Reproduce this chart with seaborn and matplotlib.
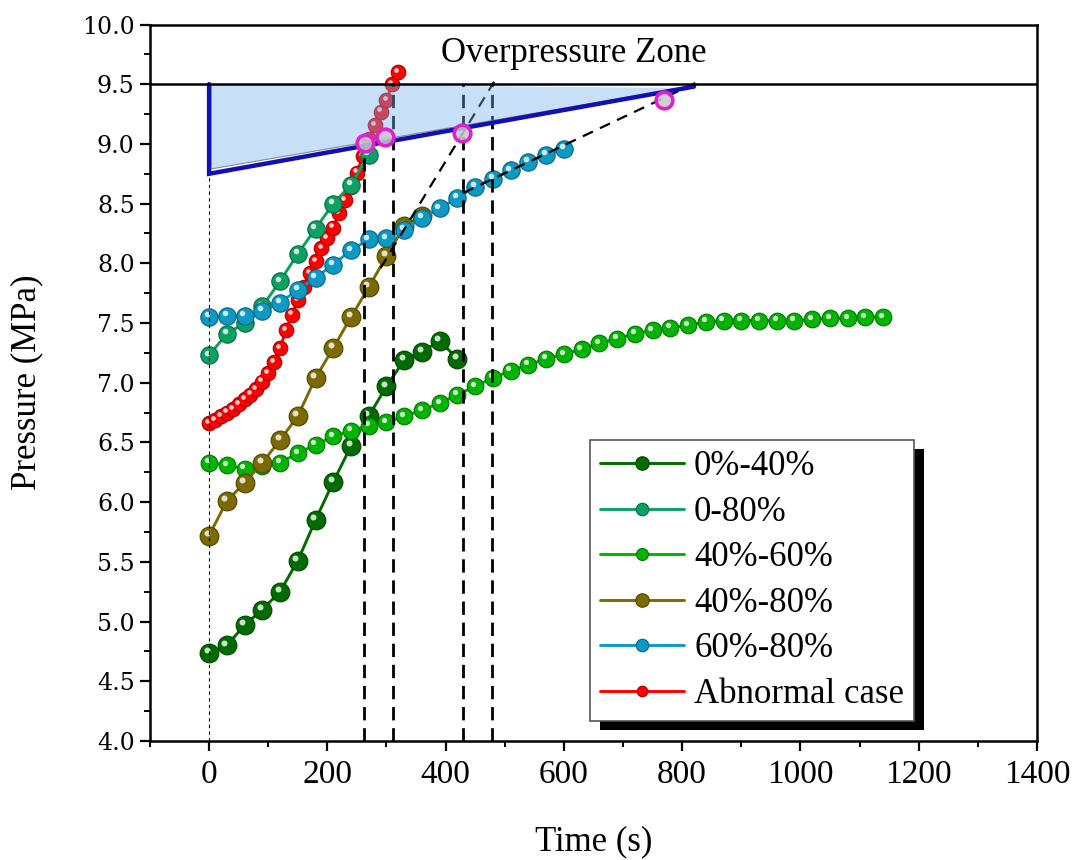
import matplotlib
matplotlib.use("Agg")
import matplotlib.pyplot as plt
import seaborn as sns
from matplotlib.patches import Polygon, Rectangle
from matplotlib.ticker import MultipleLocator, FormatStrFormatter
from matplotlib.transforms import ScaledTranslation
from matplotlib.colors import to_rgb

# ---- pressure histories: time (s) and pressure (MPa) ----
t_0_40 = [0, 30, 60, 90, 120, 150, 180, 210, 240, 270, 300, 330, 360, 390, 420]
p_0_40 = [4.74, 4.80, 4.97, 5.10, 5.25, 5.51, 5.85, 6.17, 6.47, 6.72, 6.97, 7.19, 7.26, 7.35, 7.20]

t_0_80 = [0, 30, 60, 90, 120, 150, 180, 210, 240, 270]
p_0_80 = [7.23, 7.41, 7.50, 7.64, 7.85, 8.08, 8.29, 8.50, 8.66, 8.91]

t_40_60 = [0, 30, 60, 90, 120, 150, 180, 210, 240, 270, 300, 330, 360, 390, 420,
           450, 480, 510, 540, 570, 600, 630, 660, 690, 720, 750, 780, 810, 840,
           870, 900, 930, 960, 990, 1020, 1050, 1080, 1110, 1140]
p_40_60 = [6.33, 6.31, 6.28, 6.30, 6.33, 6.41, 6.48, 6.55, 6.60, 6.64, 6.67, 6.72,
           6.77, 6.83, 6.90, 6.97, 7.04, 7.10, 7.15, 7.20, 7.24, 7.28, 7.33, 7.37,
           7.41, 7.44, 7.46, 7.48, 7.51, 7.52, 7.52, 7.52, 7.52, 7.52, 7.53, 7.54,
           7.54, 7.55, 7.55]

t_40_80 = [0, 30, 60, 90, 120, 150, 180, 210, 240, 270, 300, 330, 360]
p_40_80 = [5.72, 6.01, 6.16, 6.33, 6.52, 6.72, 7.04, 7.29, 7.55, 7.80, 8.06, 8.31, 8.40]

t_60_80 = [0, 30, 60, 90, 120, 150, 180, 210, 240, 270, 300, 330, 360, 390, 420,
           450, 480, 510, 540, 570, 600]
p_60_80 = [7.55, 7.56, 7.56, 7.60, 7.67, 7.78, 7.88, 7.99, 8.11, 8.20, 8.21, 8.28,
           8.38, 8.46, 8.55, 8.64, 8.71, 8.78, 8.85, 8.91, 8.96]

t_abn = [0, 10, 20, 30, 40, 50, 60, 70, 80, 90, 100, 110, 120, 130, 140, 150, 160,
         170, 180, 190, 200, 210, 220, 230, 240, 250, 260, 270, 280, 290, 300, 310, 320]
p_abn = [6.66, 6.69, 6.72, 6.75, 6.78, 6.82, 6.86, 6.90, 6.95, 7.01, 7.08, 7.17,
         7.29, 7.44, 7.57, 7.69, 7.80, 7.92, 8.02, 8.13, 8.21, 8.30, 8.42, 8.53,
         8.64, 8.76, 8.90, 9.04, 9.16, 9.27, 9.37, 9.50, 9.60]

legend_order = ["0%-40%", "0-80%", "40%-60%", "40%-80%", "60%-80%", "Abnormal case"]

# overpressure limit and the warning envelope below it
p_limit = 9.5
zone_t = [0, 0, 820]
zone_p = [9.5, 8.75, 9.48]

# critical instants and extrapolated trends
crit_t = [262, 311, 430, 479]
crit_top = [9.0, 9.5, 9.5, 9.5]
trend_olive_t = [290, 482]
trend_olive_p = [7.96, 9.52]
trend_blue_t = [430, 831]
trend_blue_p = [8.59, 9.53]
hit_t = [264, 298, 428, 769]
hit_p = [9.01, 9.06, 9.09, 9.37]

# ---- style ----
sns.set_style("white")
plt.rcParams["font.family"] = ["Liberation Serif", "DejaVu Serif"]
plt.rcParams["axes.edgecolor"] = "black"
plt.rcParams["text.color"] = "black"
plt.rcParams["axes.labelcolor"] = "black"
plt.rcParams["xtick.color"] = "black"
plt.rcParams["ytick.color"] = "black"

fig = plt.figure(figsize=(10.78, 8.60), dpi=100)
ax = fig.add_axes([0.1391, 0.1384, 0.8228, 0.8331])
ax.set_facecolor("white")


def darker(c, f=0.65):
    r, g, b = to_rgb(c)
    return (r * f, g * f, b * f)


series = [
    ("Abnormal case", t_abn, p_abn, "#FF0000", 10.5, 2.10),
    ("0%-40%", t_0_40, p_0_40, "#006B00", 13.5, 2.20),
    ("0-80%", t_0_80, p_0_80, "#0BA064", 12.5, 2.30),
    ("40%-60%", t_40_60, p_40_60, "#00B400", 12, 2.40),
    ("40%-80%", t_40_80, p_40_80, "#7A6A00", 13.5, 2.50),
    ("60%-80%", t_60_80, p_60_80, "#0C9AC4", 12.5, 2.60),
]

for label, t, p, c, ms, z in series:
    sns.lineplot(x=t, y=p, ax=ax, color=c, linewidth=2.1, marker="o", markersize=ms,
                 markeredgecolor=darker(c), markeredgewidth=0.8, label=label,
                 zorder=z, errorbar=None, sort=False)
    # glossy highlight on each sphere marker
    shift = ScaledTranslation(-ms * 0.13 / 72, ms * 0.15 / 72, fig.dpi_scale_trans)
    ax.plot(t, p, ls="none", marker="o", ms=ms * 0.32, mfc="white", mec="none",
            alpha=0.8, transform=ax.transData + shift, zorder=z + 0.005)

# guide lines
ax.vlines(crit_t, 4.0, crit_top, colors="black", linewidth=2.0,
          linestyles=(0, (4.8, 2.8)), zorder=2.8)
ax.vlines([0], 4.0, zone_p[1], colors="black", linewidth=0.8,
          linestyles=(0, (3, 3)), zorder=2.8)
ax.plot(trend_olive_t, trend_olive_p, color="black", lw=1.6, ls=(0, (5, 3.5)), zorder=2.85)
ax.plot(trend_blue_t, trend_blue_p, color="black", lw=1.6, ls=(0, (5, 3.5)), zorder=2.85)

# warning envelope
fill = Polygon([(3, 9.5), (3, 8.79), (800, 9.47)], closed=True,
               facecolor=(0.45, 0.70, 0.93), alpha=0.4, edgecolor="none", zorder=3)
ax.add_patch(fill)
ax.plot([3, 3, 800], [9.5, 8.79, 9.47], color="#8a8a8a", lw=0.8, zorder=3.05)
ax.plot(zone_t, zone_p, color="#1010B4", lw=3.2, solid_joinstyle="miter", zorder=3.5)
ax.axhline(p_limit, color="black", lw=1.8, zorder=3.6)

ax.plot(hit_t, hit_p, ls="none", marker="o", ms=12, mfc=(0.78, 0.78, 0.82, 0.85),
        mec="#E020C8", mew=2.6, zorder=4)

ax.text(616, 9.76, "Overpressure Zone", fontsize=25, ha="center", va="center", zorder=5)

# axes
ax.set_xlim(-100, 1400)
ax.set_ylim(4.0, 10.0)
ax.xaxis.set_major_locator(MultipleLocator(200))
ax.xaxis.set_minor_locator(MultipleLocator(100))
ax.yaxis.set_major_locator(MultipleLocator(0.5))
ax.yaxis.set_minor_locator(MultipleLocator(0.25))
ax.yaxis.set_major_formatter(FormatStrFormatter("%.1f"))
ax.tick_params(axis="both", which="major", direction="out", length=7, width=1.6,
               bottom=True, left=True, top=False, right=False, colors="black")
ax.tick_params(axis="both", which="minor", direction="out", length=4, width=1.4,
               bottom=True, left=True, top=False, right=False, colors="black")
ax.tick_params(axis="x", labelsize=24, pad=6)
ax.tick_params(axis="y", labelsize=17, labelfontfamily="DejaVu Serif", pad=4)
for s in ax.spines.values():
    s.set_visible(True)
    s.set_linewidth(1.8)
    s.set_color("black")

ax.set_xlabel("Time (s)", fontsize=25, color="black")
ax.xaxis.set_label_coords(0.5, -0.118)
ax.set_ylabel("Pressure (MPa)", fontsize=25, va="center", color="black")
ax.yaxis.set_label_coords(-0.139, 0.50)

# legend in the published order
handles, labels = ax.get_legend_handles_labels()
lookup = dict(zip(labels, handles))
leg = ax.legend([lookup[k] for k in legend_order], legend_order, loc="upper left",
                bbox_to_anchor=(0.496, 0.42), borderaxespad=0, frameon=True,
                fancybox=False, edgecolor="#555555", framealpha=1, fontsize=25,
                handlelength=2.4, handletextpad=0.3, labelspacing=0.36,
                borderpad=0.3, markerscale=0.72, labelcolor="black")
leg.get_frame().set_linewidth(1.2)
leg.set_zorder(6)

# solid drop shadow behind the legend box
fig.canvas.draw()
bb = leg.get_window_extent()
inv = ax.transAxes.inverted()
(x0, y0), (x1, y1) = inv.transform([(bb.x0 + 10, bb.y0 - 9), (bb.x1 + 10, bb.y1 - 9)])
ax.add_patch(Rectangle((x0, y0), x1 - x0, y1 - y0, transform=ax.transAxes,
                       facecolor="black", edgecolor="none", zorder=5.9))

fig.savefig("out.png", dpi=100, facecolor="white")
